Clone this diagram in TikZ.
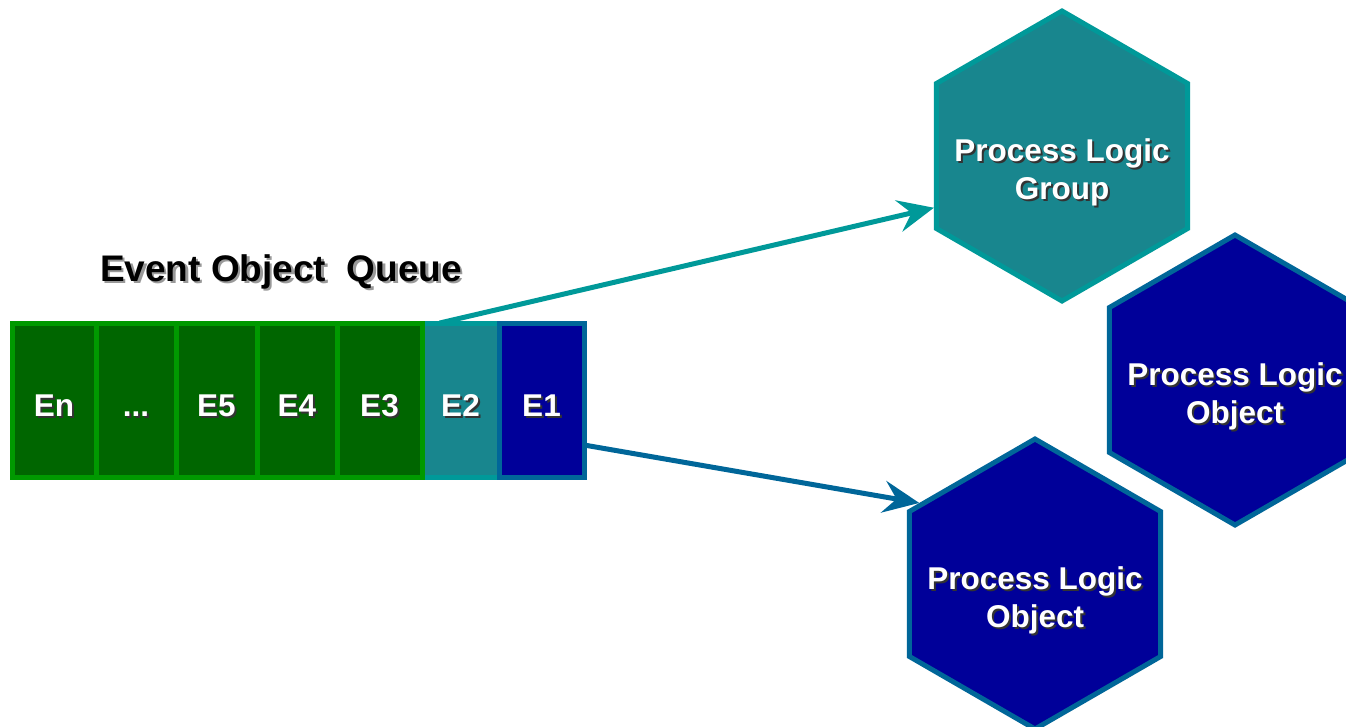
\documentclass[tikz,border=0pt]{standalone}
\usepackage{fontspec}
\setmainfont{Liberation Sans}
\usetikzlibrary{shapes.geometric,arrows.meta,calc}
\definecolor{qgreen}{HTML}{009900}
\definecolor{qgreenfill}{HTML}{006600}
\definecolor{tealfill}{HTML}{18868E}
\definecolor{tealline}{HTML}{009999}
\definecolor{bluefill}{HTML}{000099}
\definecolor{blueline}{HTML}{006699}
\newcommand\myCellFont{\fontsize{31.5}{36}\selectfont\bfseries}
\newcommand\myHexFont{\fontsize{31.5}{38}\selectfont\bfseries}
\newcommand\myTitleFont{\fontsize{37}{42}\selectfont\bfseries}
% #1 offset, #2 text colour, #3 shadow colour, #4 text
\newcommand\myShadowed[4]{%
  \makebox[0pt][l]{\hspace{#1}\raisebox{-#1}{\color{#3}\begin{tabular}{@{}c@{}}#4\end{tabular}}}%
  {\color{#2}\begin{tabular}{@{}c@{}}#4\end{tabular}}}
\begin{document}
\begin{tikzpicture}[x=1pt,y=-1pt,
  cell/.style={rectangle, line width=5pt, minimum height=154pt, inner sep=0pt, outer sep=0pt,
    font=\myCellFont, text height=32pt, text depth=0pt},
  gcell/.style={cell, draw=qgreen, fill=qgreenfill},
  tcell/.style={cell, draw=tealline, fill=tealfill},
  bcell/.style={cell, draw=blueline, fill=bluefill},
  hexa/.style={regular polygon, regular polygon sides=6, regular polygon rotate=30,
    minimum size=290pt, line width=5pt, inner sep=0pt},
  thexa/.style={hexa, draw=tealline, fill=tealfill},
  bhexa/.style={hexa, draw=blueline, fill=bluefill},
  hexlabel/.style={yshift=-18pt, font=\myHexFont},
  arr/.style={line width=5pt, -{Stealth[length=36pt,width=32pt,inset=13pt]}}
]
\useasboundingbox (0,0) rectangle (1346,726);

% title
\node[font=\myTitleFont] (title) at (281,274) {\myShadowed{2.5pt}{black}{black!40}{Event Object\ \ Queue}};

% queue
\node[tcell, minimum width=77pt] (e2) at (460.5,400) {\myShadowed{2pt}{white}{black!80}{E2}};
\node[gcell, minimum width=84pt] (en) at (54,400) {\myShadowed{2pt}{white}{black!80}{En}};
\node[gcell, minimum width=80pt] (dots) at (136,400) {\myShadowed{2pt}{white}{black!80}{...}};
\node[gcell, minimum width=81pt] (e5) at (216.5,400) {\myShadowed{2pt}{white}{black!80}{E5}};
\node[gcell, minimum width=80pt] (e4) at (297,400) {\myShadowed{2pt}{white}{black!80}{E4}};
\node[gcell, minimum width=85pt] (e3) at (379.5,400) {\myShadowed{2pt}{white}{black!80}{E3}};
\node[bcell, minimum width=85pt] (e1) at (541.5,400) {\myShadowed{2pt}{white}{black!80}{E1}};

% hexagons
\node[thexa, label={[hexlabel]center:{\myShadowed{2pt}{white}{black!80}{Process Logic\\Group}}}] (grp) at (1062,156) {};
\node[bhexa, label={[hexlabel]center:{\myShadowed{2pt}{white}{black!80}{Process Logic\\Object}}}] (obj1) at (1235,380) {};
\node[bhexa, label={[hexlabel]center:{\myShadowed{2pt}{white}{black!80}{Process Logic\\Object}}}] (obj2) at (1035,584) {};

% arrows
\draw[arr, tealline] ($(e2.north west)!0.23!(e2.north east)$) -- (grp.202);
\draw[arr, blueline] ($(e1.east)+(0,45)$) -- (obj2.145);
\end{tikzpicture}
\end{document}
